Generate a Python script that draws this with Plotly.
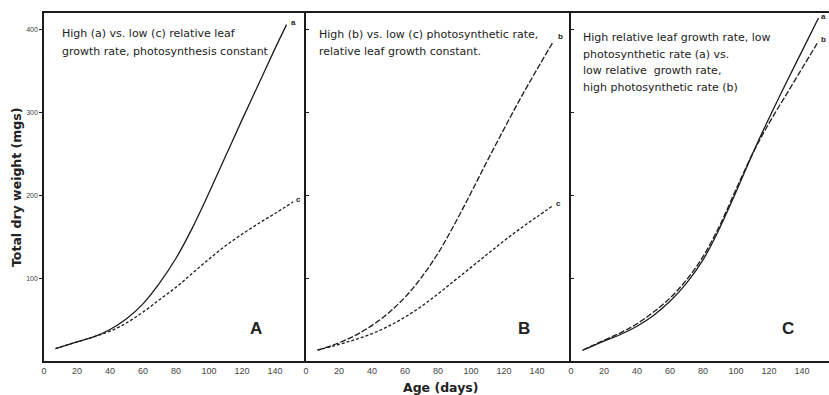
import plotly.graph_objects as go

# Age (days) sampled along each simulated growth curve, with total dry weight (mgs)
age_a = [7, 20, 30, 40, 50, 60, 70, 80, 90, 100, 110, 120, 130, 140, 147]
wt_high_leaf = [15, 23, 29, 38, 51, 69, 94, 124, 161, 203, 247, 291, 334, 377, 406]

age_c = [7, 20, 30, 40, 50, 60, 70, 80, 90, 100, 110, 120, 130, 140, 151]
wt_low_low = [15, 23, 29, 36, 46, 59, 74, 89, 106, 123, 139, 153, 166, 178, 192]

age_b = [7, 20, 30, 40, 50, 60, 70, 80, 90, 100, 110, 120, 130, 140, 150]
wt_high_photo = [13, 22, 31, 43, 58, 77, 101, 130, 165, 203, 242, 280, 317, 352, 386]
wt_low_low_b = [13, 20, 26, 33, 42, 53, 66, 81, 97, 113, 129, 145, 160, 174, 188]

age_cc = [7, 20, 30, 40, 50, 60, 70, 80, 90, 100, 110, 120, 130, 140, 150]
wt_c_a = [13, 24, 32, 42, 55, 72, 94, 122, 160, 204, 250, 293, 334, 374, 414]
wt_c_b = [13, 25, 34, 45, 59, 76, 98, 126, 163, 207, 250, 287, 320, 353, 386]

x_ticks = [0, 20, 40, 60, 80, 100, 120, 140]
y_ticks = [100, 200, 300, 400]

panel_letters = ["A", "B", "C"]
panel_notes = [
    ["High (a) vs. low (c) relative leaf",
     "growth rate, photosynthesis constant"],
    ["High (b) vs. low (c) photosynthetic rate,",
     "relative leaf growth constant."],
    ["High relative leaf growth rate, low",
     "photosynthetic rate (a) vs.",
     "low relative  growth rate,",
     "high photosynthetic rate (b)"],
]

INK = "#1c1c1c"
FONT = "Liberation Sans"
NOTE_FONT = "DejaVu Sans"

fig = go.Figure()

def curve(x, y, axis, dash):
    fig.add_trace(go.Scatter(
        x=x, y=y, mode="lines", xaxis="x" + axis, yaxis="y" + axis,
        line=dict(color=INK, width=1.3, dash=dash, shape="spline", smoothing=1.0),
        showlegend=False, hoverinfo="skip"))

curve(age_a, wt_high_leaf, "", "solid")
curve(age_c, wt_low_low, "", "3px,2px")
curve(age_b, wt_high_photo, "2", "6px,2px")
curve(age_b, wt_low_low_b, "2", "3px,2px")
curve(age_cc, wt_c_a, "3", "solid")
curve(age_cc, wt_c_b, "3", "6px,2px")

# plot area spans 44..829 px horizontally (785 px), 1.65 px per day
W = 785.0
H = 348.0
doms = [[0, 262 / W], [262 / W, 527 / W], [527 / W, 1.0]]
xr = [[0, 262 / 1.65], [0, 265 / 1.65], [0, 258 / 1.65]]

def px(x):
    return (x - 44) / W

def py(y):
    return (361 - y) / H

layout = dict(
    width=829, height=395,
    margin=dict(l=44, r=0, t=13, b=34),
    paper_bgcolor="white", plot_bgcolor="white",
    showlegend=False,
)
for i, suf in enumerate(["", "2", "3"]):
    layout["xaxis" + suf] = dict(
        domain=doms[i], range=xr[i], anchor="y" + suf,
        tickvals=x_ticks, ticks="",
        showline=True, linecolor=INK, linewidth=1.5, mirror=True,
        showgrid=False, zeroline=False,
        tickfont=dict(family=FONT, size=9, color="#444"),
    )
    layout["yaxis" + suf] = dict(
        domain=[0, 1], range=[0, 420], anchor="x" + suf,
        tickvals=y_ticks, ticks="outside" if i == 0 else "inside",
        ticklen=3, tickcolor=INK,
        showticklabels=(i == 0),
        showline=True, linecolor=INK, linewidth=1.5,
        showgrid=False, zeroline=False,
        tickfont=dict(family=FONT, size=7, color="#444"),
    )
fig.update_layout(**layout)

ann = []
note_x = [60, 317, 581]
note_y = [[34, 51], [35, 52], [37, 54, 71, 87]]
for i in range(3):
    for j, line in enumerate(panel_notes[i]):
        ann.append(dict(
            text=line, xref="paper", yref="paper",
            x=px(note_x[i]), y=py(note_y[i][j]),
            xanchor="left", yanchor="middle", align="left", showarrow=False,
            font=dict(family=NOTE_FONT, size=11, color="#222")))
letter_x = [256, 524, 788]
for i in range(3):
    ann.append(dict(
        text="<b>%s</b>" % panel_letters[i], xref="paper", yref="paper",
        x=px(letter_x[i]), y=py(328),
        xanchor="center", yanchor="middle", showarrow=False,
        font=dict(family=FONT, size=17, color="#222")))

# small curve labels at the ends of each line
def end_label(txt, x, y, axis, dx, dy):
    ann.append(dict(text="<b>%s</b>" % txt, x=x, y=y, xref="x" + axis, yref="y" + axis,
                    xshift=dx, yshift=dy, showarrow=False,
                    font=dict(family=FONT, size=8, color="#222")))

end_label("a", age_a[-1], wt_high_leaf[-1], "", 7, 2)
end_label("c", age_c[-1], wt_low_low[-1], "", 5, 2)
end_label("b", age_b[-1], wt_high_photo[-1], "2", 7, 5)
end_label("c", age_b[-1], wt_low_low_b[-1], "2", 5, 2)
end_label("a", age_cc[-1], wt_c_a[-1], "3", 5, 1)
end_label("b", age_cc[-1], wt_c_b[-1], "3", 5, 2)

ann.append(dict(text="<b>Total dry weight (mgs)</b>", xref="paper", yref="paper",
                x=px(16), y=py(188), textangle=-90,
                xanchor="center", yanchor="middle", showarrow=False,
                font=dict(family=NOTE_FONT, size=12.5, color="#222")))
ann.append(dict(text="<b>Age (days)</b>", xref="paper", yref="paper",
                x=px(440), y=py(387),
                xanchor="center", yanchor="middle", showarrow=False,
                font=dict(family=NOTE_FONT, size=12.5, color="#222")))
fig.update_layout(annotations=ann)

fig.write_html("out.html")
